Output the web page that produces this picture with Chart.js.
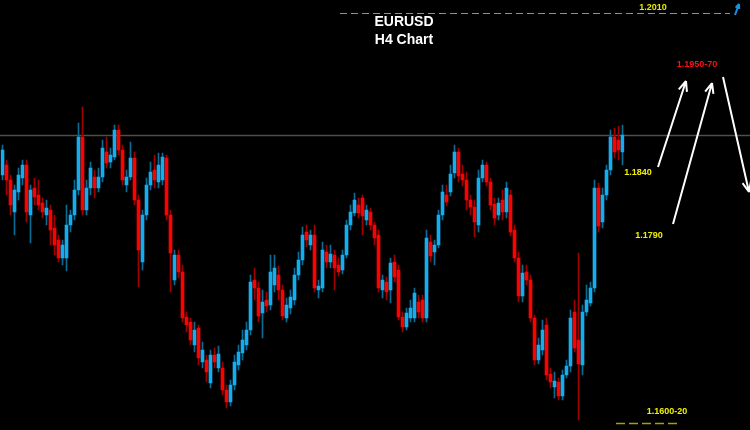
<!DOCTYPE html>
<html>
<head>
<meta charset="utf-8">
<script src="https://cdn.jsdelivr.net/npm/chart.js@4/dist/chart.umd.min.js"></script>
<style>
  html, body { margin: 0; padding: 0; background: #000; }
  #wrap { width: 750px; height: 430px; }
</style>
</head>
<body>
<div id="wrap"><canvas id="chart" width="750" height="430"></canvas></div>
<script>
// EURUSD H4 candles (prices)
const open = [
  1.1848, 1.1858, 1.1843, 1.1811, 1.1831, 1.1845, 1.1858, 1.1808, 1.1835, 1.1828,
  1.1820, 1.1808, 1.1813, 1.1795, 1.1783, 1.1765, 1.1765, 1.1798, 1.1808, 1.1833,
  1.1886, 1.1813, 1.1835, 1.1846, 1.1835, 1.1846, 1.1871, 1.1861, 1.1866, 1.1893,
  1.1873, 1.1838, 1.1846, 1.1865, 1.1823, 1.1761, 1.1808, 1.1838, 1.1853, 1.1841,
  1.1843, 1.1865, 1.1808, 1.1743, 1.1768, 1.1751, 1.1706, 1.1701, 1.1678, 1.1695,
  1.1661, 1.1663, 1.1640, 1.1668, 1.1655, 1.1655, 1.1633, 1.1621, 1.1638, 1.1658,
  1.1670, 1.1678, 1.1693, 1.1743, 1.1735, 1.1710, 1.1723, 1.1718, 1.1738, 1.1748,
  1.1733, 1.1705, 1.1715, 1.1723, 1.1748, 1.1763, 1.1791, 1.1778, 1.1788, 1.1733,
  1.1735, 1.1771, 1.1761, 1.1768, 1.1758, 1.1753, 1.1768, 1.1798, 1.1810, 1.1818,
  1.1825, 1.1803, 1.1811, 1.1798, 1.1788, 1.1733, 1.1741, 1.1733, 1.1761, 1.1753,
  1.1706, 1.1696, 1.1705, 1.1705, 1.1721, 1.1723, 1.1705, 1.1781, 1.1771, 1.1778,
  1.1808, 1.1828, 1.1831, 1.1850, 1.1871, 1.1849, 1.1843, 1.1823, 1.1816, 1.1798,
  1.1845, 1.1858, 1.1841, 1.1819, 1.1808, 1.1823, 1.1811, 1.1828, 1.1793, 1.1765,
  1.1727, 1.1751, 1.1743, 1.1705, 1.1663, 1.1673, 1.1698, 1.1649, 1.1636, 1.1641,
  1.1627, 1.1648, 1.1657, 1.1711, 1.1683, 1.1658, 1.1711, 1.1720, 1.1735, 1.1835,
  1.1801, 1.1828, 1.1853, 1.1886, 1.1883, 1.1871
];
const high = [
  1.1878, 1.1863, 1.1848, 1.1838, 1.1855, 1.1863, 1.1863, 1.1838, 1.1845, 1.1843,
  1.1825, 1.1823, 1.1818, 1.1808, 1.1788, 1.1783, 1.1818, 1.1813, 1.1843, 1.1900,
  1.1916, 1.1843, 1.1861, 1.1853, 1.1855, 1.1883, 1.1886, 1.1875, 1.1898, 1.1898,
  1.1878, 1.1853, 1.1881, 1.1871, 1.1828, 1.1813, 1.1845, 1.1861, 1.1868, 1.1870,
  1.1870, 1.1868, 1.1813, 1.1773, 1.1773, 1.1758, 1.1711, 1.1705, 1.1701, 1.1698,
  1.1681, 1.1668, 1.1673, 1.1675, 1.1677, 1.1661, 1.1638, 1.1643, 1.1668, 1.1678,
  1.1693, 1.1701, 1.1748, 1.1755, 1.1741, 1.1733, 1.1731, 1.1768, 1.1768, 1.1757,
  1.1738, 1.1725, 1.1733, 1.1755, 1.1771, 1.1796, 1.1798, 1.1793, 1.1798, 1.1743,
  1.1781, 1.1778, 1.1778, 1.1773, 1.1765, 1.1773, 1.1803, 1.1818, 1.1830, 1.1825,
  1.1828, 1.1818, 1.1815, 1.1801, 1.1793, 1.1748, 1.1746, 1.1765, 1.1768, 1.1758,
  1.1711, 1.1715, 1.1723, 1.1735, 1.1728, 1.1728, 1.1793, 1.1788, 1.1783, 1.1813,
  1.1838, 1.1838, 1.1858, 1.1878, 1.1875, 1.1858, 1.1851, 1.1828, 1.1823, 1.1853,
  1.1863, 1.1861, 1.1845, 1.1825, 1.1825, 1.1833, 1.1841, 1.1833, 1.1798, 1.1771,
  1.1758, 1.1758, 1.1748, 1.1708, 1.1685, 1.1703, 1.1705, 1.1655, 1.1651, 1.1645,
  1.1653, 1.1663, 1.1713, 1.1723, 1.1770, 1.1718, 1.1738, 1.1741, 1.1843, 1.1840,
  1.1835, 1.1858, 1.1893, 1.1895, 1.1897, 1.1898
];
const low = [
  1.1843, 1.1828, 1.1808, 1.1788, 1.1823, 1.1838, 1.1801, 1.1780, 1.1818, 1.1813,
  1.1805, 1.1798, 1.1778, 1.1768, 1.1761, 1.1758, 1.1752, 1.1791, 1.1803, 1.1828,
  1.1808, 1.1808, 1.1828, 1.1825, 1.1831, 1.1841, 1.1855, 1.1855, 1.1863, 1.1868,
  1.1838, 1.1831, 1.1843, 1.1818, 1.1736, 1.1753, 1.1803, 1.1833, 1.1835, 1.1835,
  1.1838, 1.1803, 1.1731, 1.1738, 1.1745, 1.1701, 1.1691, 1.1678, 1.1671, 1.1658,
  1.1655, 1.1641, 1.1635, 1.1655, 1.1651, 1.1628, 1.1615, 1.1617, 1.1633, 1.1653,
  1.1663, 1.1673, 1.1688, 1.1723, 1.1701, 1.1685, 1.1711, 1.1713, 1.1731, 1.1723,
  1.1703, 1.1701, 1.1709, 1.1718, 1.1743, 1.1758, 1.1776, 1.1773, 1.1731, 1.1725,
  1.1731, 1.1755, 1.1755, 1.1733, 1.1747, 1.1749, 1.1765, 1.1793, 1.1807, 1.1805,
  1.1788, 1.1798, 1.1793, 1.1778, 1.1731, 1.1725, 1.1723, 1.1720, 1.1741, 1.1703,
  1.1691, 1.1693, 1.1701, 1.1701, 1.1705, 1.1701, 1.1701, 1.1761, 1.1758, 1.1775,
  1.1803, 1.1817, 1.1827, 1.1845, 1.1841, 1.1837, 1.1813, 1.1808, 1.1786, 1.1791,
  1.1841, 1.1837, 1.1813, 1.1798, 1.1803, 1.1803, 1.1805, 1.1787, 1.1761, 1.1721,
  1.1721, 1.1738, 1.1701, 1.1658, 1.1659, 1.1668, 1.1643, 1.1635, 1.1625, 1.1623,
  1.1623, 1.1645, 1.1651, 1.1671, 1.1603, 1.1648, 1.1707, 1.1717, 1.1731, 1.1791,
  1.1795, 1.1823, 1.1848, 1.1865, 1.1863, 1.1858
];
const close = [
  1.1873, 1.1843, 1.1818, 1.1833, 1.1848, 1.1858, 1.1811, 1.1833, 1.1826, 1.1818,
  1.1811, 1.1815, 1.1793, 1.1778, 1.1765, 1.1778, 1.1798, 1.1808, 1.1833, 1.1886,
  1.1813, 1.1835, 1.1855, 1.1835, 1.1846, 1.1875, 1.1860, 1.1868, 1.1893, 1.1873,
  1.1843, 1.1846, 1.1865, 1.1823, 1.1773, 1.1808, 1.1838, 1.1851, 1.1843, 1.1858,
  1.1866, 1.1808, 1.1770, 1.1768, 1.1751, 1.1705, 1.1698, 1.1683, 1.1693, 1.1665,
  1.1673, 1.1651, 1.1668, 1.1661, 1.1669, 1.1633, 1.1621, 1.1638, 1.1661, 1.1671,
  1.1683, 1.1693, 1.1741, 1.1735, 1.1707, 1.1721, 1.1717, 1.1751, 1.1755, 1.1733,
  1.1707, 1.1718, 1.1726, 1.1748, 1.1763, 1.1788, 1.1783, 1.1788, 1.1735, 1.1737,
  1.1773, 1.1761, 1.1769, 1.1755, 1.1751, 1.1768, 1.1798, 1.1811, 1.1823, 1.1810,
  1.1807, 1.1813, 1.1798, 1.1785, 1.1735, 1.1743, 1.1731, 1.1760, 1.1746, 1.1706,
  1.1696, 1.1710, 1.1715, 1.1730, 1.1711, 1.1705, 1.1785, 1.1767, 1.1778, 1.1808,
  1.1831, 1.1821, 1.1849, 1.1871, 1.1847, 1.1843, 1.1823, 1.1816, 1.1801, 1.1845,
  1.1858, 1.1841, 1.1818, 1.1805, 1.1820, 1.1811, 1.1835, 1.1791, 1.1765, 1.1727,
  1.1750, 1.1743, 1.1705, 1.1663, 1.1678, 1.1693, 1.1648, 1.1641, 1.1642, 1.1627,
  1.1648, 1.1657, 1.1705, 1.1675, 1.1659, 1.1711, 1.1723, 1.1735, 1.1835, 1.1797,
  1.1828, 1.1853, 1.1886, 1.1871, 1.1873, 1.1888
];
const labels = open.map((_, i) => "bar " + (i + 1));

// price levels and annotation texts
const resistanceLine = 1.1888;
const topLevel = 1.2010;
const bottomLevel = 1.1600;
const noteTexts = ["1.2010", "1.1950-70", "1.1840", "1.1790", "1.1600-20"];
const notePrices = [1.2015, 1.1958, 1.1850, 1.1787, 1.1611];
const noteX = [653, 697, 638, 649, 667];
const noteColors = ["#e8e800", "#ff1010", "#f0f000", "#f0f000", "#f0f000"];
// scenario arrows: [x0, price0, x1, price1]
const arrows = [
  [658, 1.1856, 686, 1.1942],
  [673, 1.1799, 712, 1.1940],
  [723, 1.1946, 749, 1.1831]
];

const UP = "#12aef0", DOWN = "#ff0000";
const UP_WICK = "#0a6c94", DOWN_WICK = "#a00000";
const bodyColors = open.map((o, i) => (close[i] >= o ? UP : DOWN));
const wickColors = open.map((o, i) => (close[i] >= o ? UP_WICK : DOWN_WICK));

function arrowLine(ctx, x0, y0, x1, y1, color, head) {
  ctx.strokeStyle = color;
  ctx.lineWidth = 2;
  ctx.beginPath();
  ctx.moveTo(x0, y0);
  ctx.lineTo(x1, y1);
  const a = Math.atan2(y1 - y0, x1 - x0);
  ctx.moveTo(x1, y1);
  ctx.lineTo(x1 - head * Math.cos(a - 0.4), y1 - head * Math.sin(a - 0.4));
  ctx.moveTo(x1, y1);
  ctx.lineTo(x1 - head * Math.cos(a + 0.4), y1 - head * Math.sin(a + 0.4));
  ctx.stroke();
}

const overlay = {
  id: "overlay",
  beforeDatasetsDraw(chart) {
    const ctx = chart.ctx;
    const y = Math.round(chart.scales.y.getPixelForValue(resistanceLine)) + 0.5;
    ctx.save();
    ctx.strokeStyle = "#4e4e4e";
    ctx.lineWidth = 1.5;
    ctx.beginPath();
    ctx.moveTo(0, y);
    ctx.lineTo(750, y);
    ctx.stroke();
    ctx.restore();
  },
  afterDraw(chart) {
    const ctx = chart.ctx;
    const ys = chart.scales.y;
    ctx.save();

    // dashed levels
    ctx.strokeStyle = "#a3a300";
    ctx.lineWidth = 1;
    ctx.setLineDash([7, 4]);
    let y = Math.round(ys.getPixelForValue(topLevel)) + 0.5;
    ctx.beginPath();
    ctx.moveTo(340, y);
    ctx.lineTo(730, y);
    ctx.stroke();
    ctx.lineWidth = 1.5;
    ctx.setLineDash([9, 4]);
    y = Math.round(ys.getPixelForValue(bottomLevel)) + 0.5;
    ctx.beginPath();
    ctx.moveTo(616, y);
    ctx.lineTo(678, y);
    ctx.stroke();
    ctx.setLineDash([]);

    // title
    ctx.fillStyle = "#ffffff";
    ctx.font = "bold 14px 'Liberation Sans', Arial, sans-serif";
    ctx.textAlign = "center";
    ctx.textBaseline = "middle";
    ctx.fillText("EURUSD", 404, 22);
    ctx.fillText("H4 Chart", 404, 40);

    // level notes
    ctx.font = "bold 9px 'Liberation Sans', Arial, sans-serif";
    noteTexts.forEach((t, i) => {
      ctx.fillStyle = noteColors[i];
      ctx.fillText(t, noteX[i], ys.getPixelForValue(notePrices[i]));
    });

    // scenario arrows
    arrows.forEach((a) => {
      arrowLine(ctx, a[0], ys.getPixelForValue(a[1]), a[2], ys.getPixelForValue(a[3]), "#ffffff", 11);
    });

    // small blue marker arrow top right
    ctx.lineWidth = 1.5;
    arrowLine(ctx, 735, 15, 739, 4, "#1c8fe0", 5);
    ctx.restore();
  }
};

new Chart(document.getElementById("chart"), {
  type: "bar",
  data: {
    labels,
    datasets: [
      {
        label: "body",
        data: open.map((o, i) => [o, close[i]]),
        backgroundColor: bodyColors,
        barThickness: 3,
        minBarLength: 1,
        grouped: false,
        order: 0,
        borderWidth: 0
      },
      {
        label: "wick",
        data: low.map((l, i) => [l, high[i]]),
        backgroundColor: wickColors,
        barThickness: 1,
        grouped: false,
        order: 1,
        borderWidth: 0
      }
    ]
  },
  options: {
    responsive: false,
    animation: false,
    devicePixelRatio: 1,
    layout: { padding: { left: 0.5, right: 125.5, top: 0, bottom: 0 } },
    plugins: { legend: { display: false }, tooltip: { enabled: false } },
    scales: {
      x: { display: false, offset: true },
      y: { display: false, min: 1.1593, max: 1.2023 }
    }
  },
  plugins: [overlay]
});
</script>
</body>
</html>
